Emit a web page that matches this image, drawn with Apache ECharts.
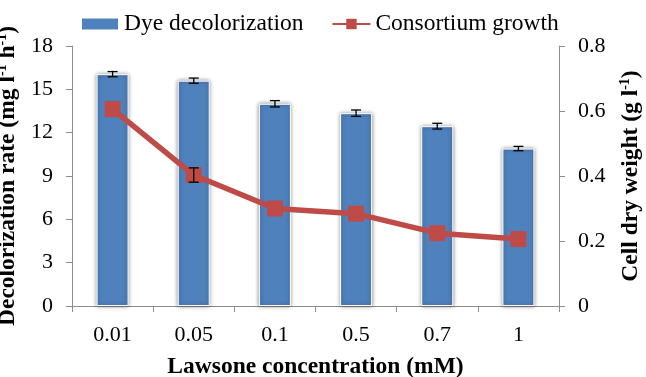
<!DOCTYPE html>
<html>
<head>
<meta charset="utf-8">
<script src="https://cdn.jsdelivr.net/npm/echarts@6/dist/echarts.min.js"></script>
<style>
  html, body { margin: 0; padding: 0; background: #fff; }
  #chart { width: 646px; height: 377px; }
</style>
</head>
<body>
<div id="chart"></div>
<script>
const concentrations = ['0.01', '0.05', '0.1', '0.5', '0.7', '1'];
const decolorRate = [16.05, 15.6, 14.0, 13.35, 12.45, 10.9];
const decolorErr = [0.18, 0.18, 0.22, 0.22, 0.2, 0.15];
const cellWeight = [0.606, 0.403, 0.300, 0.284, 0.224, 0.206];
const cellErr = [0, 0.022, 0, 0, 0, 0];

const font = 'Liberation Serif';
const myChart = echarts.init(document.getElementById('chart'));

// error bar drawn with a custom series on a given y axis
const errorSeries = (vals, errs, axisIdx) => ({
  type: 'custom',
  yAxisIndex: axisIdx,
  z: 10,
  silent: true,
  data: vals.map((v, i) => [i, v - errs[i], v + errs[i]]),
  renderItem: (params, api) => {
    if (api.value(2) - api.value(1) <= 0) return;
    const lo = api.coord([api.value(0), api.value(1)]);
    const hi = api.coord([api.value(0), api.value(2)]);
    const w = 5;
    const style = { stroke: '#000', lineWidth: 1.3 };
    return {
      type: 'group',
      children: [
        { type: 'line', shape: { x1: hi[0], y1: hi[1], x2: lo[0], y2: lo[1] }, style },
        { type: 'line', shape: { x1: hi[0] - w, y1: hi[1], x2: hi[0] + w, y2: hi[1] }, style },
        { type: 'line', shape: { x1: lo[0] - w, y1: lo[1], x2: lo[0] + w, y2: lo[1] }, style }
      ]
    };
  }
});

const axisLine = { show: true, lineStyle: { color: '#8c8c8c', width: 1 } };
const axisTick = { show: true, length: 6, lineStyle: { color: '#8c8c8c' } };
const labelStyle = { color: '#000', fontFamily: font, fontSize: 22 };
const nameStyle = {
  color: '#000', fontFamily: font, fontSize: 23.5, fontWeight: 'bold',
  rich: { sup: { fontSize: 14, fontWeight: 'bold', fontFamily: font, color: '#000', verticalAlign: 'top', padding: [0, 0, 12, 0] } }
};

const option = {
  animation: false,
  textStyle: { fontFamily: font },
  legend: {
    top: 7,
    left: 75,
    itemGap: 28,
    itemWidth: 38,
    itemHeight: 13,
    textStyle: { color: '#000', fontFamily: font, fontSize: 23.5 },
    data: [
      { name: 'Dye decolorization', icon: 'rect' },
      { name: 'Consortium growth' }
    ]
  },
  grid: { left: 72, right: 87, top: 46, bottom: 71, outerBoundsMode: 'none', containLabel: false },
  xAxis: {
    type: 'category',
    data: concentrations,
    name: 'Lawsone concentration (mM)',
    nameLocation: 'middle',
    nameGap: 49,
    nameTextStyle: nameStyle,
    axisLine,
    axisTick: { ...axisTick, alignWithLabel: false },
    axisLabel: { ...labelStyle, margin: 18 }
  },
  yAxis: [
    {
      type: 'value',
      min: 0, max: 18, interval: 3,
      name: 'Decolorization rate (mg l{sup|-1} h{sup|-1})',
      nameLocation: 'middle',
      nameGap: 45,
      nameTextStyle: nameStyle,
      splitLine: { show: false },
      axisLine,
      axisTick,
      axisLabel: { ...labelStyle, margin: 19 }
    },
    {
      type: 'value',
      min: 0, max: 0.8, interval: 0.2,
      name: 'Cell dry weight (g l{sup|-1})',
      nameLocation: 'middle',
      nameGap: 59,
      nameRotate: 90,
      nameTextStyle: nameStyle,
      splitLine: { show: false },
      axisLine,
      axisTick,
      axisLabel: { ...labelStyle, margin: 19, formatter: v => (v === 0 ? '0' : v.toFixed(1)) }
    }
  ],
  series: [
    {
      name: 'Dye decolorization',
      type: 'bar',
      yAxisIndex: 0,
      barWidth: 32,
      data: decolorRate,
      itemStyle: {
        color: '#4F81BD',
        borderColor: '#ffffff',
        borderWidth: 1,
        shadowColor: 'rgba(0,0,0,0.45)',
        shadowBlur: 4
      }
    },
    errorSeries(decolorRate, decolorErr, 0),
    {
      name: 'Consortium growth',
      type: 'line',
      yAxisIndex: 1,
      data: cellWeight,
      symbol: 'rect',
      symbolSize: 16,
      z: 5,
      lineStyle: { color: '#BE4B48', width: 5.5 },
      itemStyle: { color: '#BE4B48' }
    },
    errorSeries(cellWeight, cellErr, 1)
  ]
};

myChart.setOption(option);
</script>
</body>
</html>
